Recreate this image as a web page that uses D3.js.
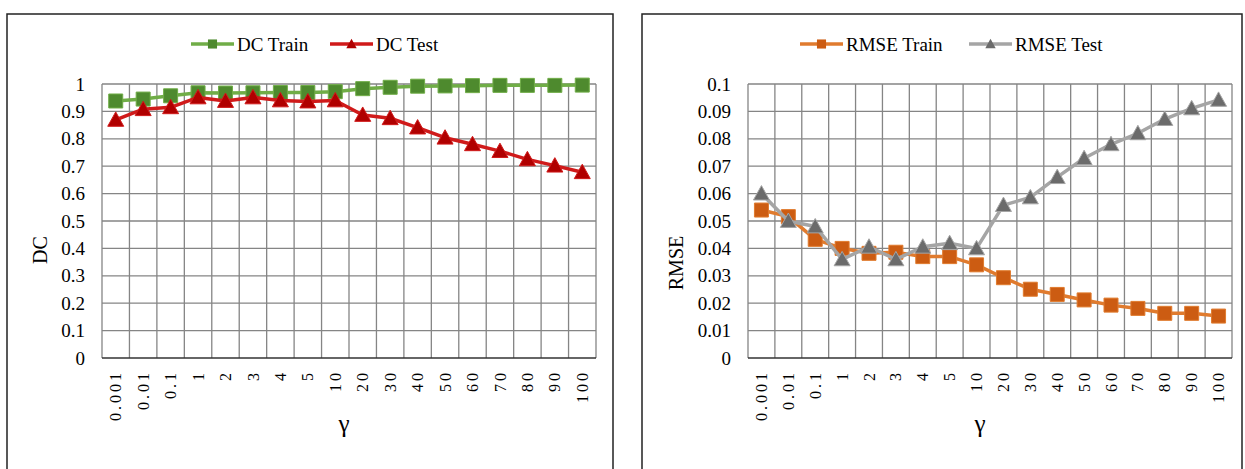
<!DOCTYPE html>
<html>
<head>
<meta charset="utf-8">
<script src="https://cdn.jsdelivr.net/npm/d3@7"></script>
<style>
    body { margin: 0; background: #fff; }
    svg text { font-family: 'Liberation Serif', 'Times New Roman', serif; fill: #000; }
    .grid line { stroke: #858585; stroke-width: 1.3; }
    .tick-label { font-size: 19px; }
    .x-label { font-size: 16px; letter-spacing: 3px; }
    .legend-text { font-size: 19px; }
</style>
</head>
<body>
<div id="chart"></div>
<script>
const gammas = ['0.001', '0.01', '0.1', '1', '2', '3', '4', '5', '10', '20', '30', '40', '50', '60', '70', '80', '90', '100']

const dcTrain = [0.938, 0.945, 0.957, 0.968, 0.967, 0.968, 0.969, 0.969, 0.972, 0.983, 0.988, 0.992, 0.993, 0.994, 0.995, 0.995, 0.995, 0.996]
const dcTest = [0.869, 0.908, 0.915, 0.951, 0.938, 0.951, 0.940, 0.936, 0.940, 0.887, 0.875, 0.841, 0.804, 0.780, 0.755, 0.725, 0.702, 0.678]

const rmseTrain = [0.054, 0.0516, 0.0433, 0.040, 0.0382, 0.0386, 0.037, 0.037, 0.034, 0.0293, 0.0251, 0.0232, 0.0212, 0.0193, 0.0181, 0.0163, 0.0163, 0.0153]
const rmseTest = [0.060, 0.050, 0.048, 0.036, 0.0406, 0.036, 0.0406, 0.0419, 0.040, 0.0558, 0.0586, 0.066, 0.0729, 0.078, 0.082, 0.0872, 0.0911, 0.0942]

const dcTicks = [0, 0.1, 0.2, 0.3, 0.4, 0.5, 0.6, 0.7, 0.8, 0.9, 1]
const rmseTicks = [0, 0.01, 0.02, 0.03, 0.04, 0.05, 0.06, 0.07, 0.08, 0.09, 0.1]

const svg = d3.select('#chart').append('svg')
    .attr('width', 1245).attr('height', 469)

drawPanel({
    box: [7, 14, 606, 470],
    plot: { left: 102, right: 596, top: 84, bottom: 358 },
    yMax: 1, yTicks: dcTicks, yFormat: d => d3.format('')(d),
    yLabel: 'DC', yLabelPos: [40, 250],
    gammaX: 344,
    series: [
        { name: 'DC Train', values: dcTrain, line: '#70ad47', marker: '#4e8a2e', shape: 'square', legendX: 191 },
        { name: 'DC Test', values: dcTest, line: '#d01a1a', marker: '#b00000', shape: 'triangle', legendX: 330 }
    ]
})

drawPanel({
    box: [642, 14, 600, 470],
    plot: { left: 748, right: 1232, top: 84, bottom: 358 },
    yMax: 0.1, yTicks: rmseTicks, yFormat: d => d3.format('')(+d.toFixed(2)),
    yLabel: 'RMSE', yLabelPos: [676, 263],
    gammaX: 980,
    series: [
        { name: 'RMSE Train', values: rmseTrain, line: '#e07b2e', marker: '#cc5c12', shape: 'square', legendX: 800 },
        { name: 'RMSE Test', values: rmseTest, line: '#a5a5a5', marker: '#6b6b6b', shape: 'triangle', legendX: 969 }
    ]
})

function drawPanel(cfg) {
    const p = cfg.plot
    const panel = svg.append('g')

    panel.append('rect')
        .attr('x', cfg.box[0]).attr('y', cfg.box[1])
        .attr('width', cfg.box[2]).attr('height', cfg.box[3])
        .attr('fill', '#fff').attr('stroke', '#222').attr('stroke-width', 1.5)

    const xScale = d3.scaleBand()
        .domain(gammas)
        .range([p.left, p.right])
    const bandW = xScale.bandwidth()

    const yScale = d3.scaleLinear()
        .domain([0, cfg.yMax])
        .range([p.bottom, p.top])

    // grid
    const grid = panel.append('g').attr('class', 'grid')
    grid.selectAll('.h').data(cfg.yTicks.slice(1))
        .join('line')
        .attr('x1', p.left).attr('x2', p.right)
        .attr('y1', d => yScale(d)).attr('y2', d => yScale(d))
    grid.selectAll('.v').data(gammas)
        .join('line')
        .attr('x1', d => xScale(d)).attr('x2', d => xScale(d))
        .attr('y1', p.top).attr('y2', p.bottom)
    grid.append('line')
        .attr('x1', p.right).attr('x2', p.right)
        .attr('y1', p.top).attr('y2', p.bottom)
    panel.append('line')
        .attr('x1', p.left).attr('x2', p.right)
        .attr('y1', p.bottom).attr('y2', p.bottom)
        .attr('stroke', '#333').attr('stroke-width', 1.6)

    // y ticks
    panel.selectAll('.y-tick').data(cfg.yTicks)
        .join('text')
        .attr('class', 'tick-label')
        .attr('x', p.left - 17)
        .attr('y', d => yScale(d))
        .attr('dy', '0.35em')
        .attr('text-anchor', 'end')
        .text(cfg.yFormat)

    // x ticks, rotated
    panel.selectAll('.x-tick').data(gammas)
        .join('text')
        .attr('class', 'x-label')
        .attr('transform', d => `translate(${xScale(d) + bandW / 2}, ${p.bottom + 12}) rotate(-90)`)
        .attr('dy', '0.35em')
        .attr('text-anchor', 'end')
        .text(d => d)

    panel.append('text')
        .attr('x', cfg.gammaX).attr('y', 432)
        .attr('text-anchor', 'middle')
        .style('font-size', '25px')
        .text('γ')

    panel.append('text')
        .attr('transform', `translate(${cfg.yLabelPos[0]}, ${cfg.yLabelPos[1]}) rotate(-90)`)
        .attr('dy', '0.35em')
        .attr('text-anchor', 'middle')
        .style('font-size', '20px')
        .text(cfg.yLabel)

    const line = d3.line()
        .x((d, i) => xScale(gammas[i]) + bandW / 2)
        .y(d => yScale(d))

    cfg.series.forEach(s => {
        panel.append('path')
            .datum(s.values)
            .attr('d', line)
            .attr('fill', 'none')
            .attr('stroke', s.line)
            .attr('stroke-width', 3.5)
            .attr('stroke-linejoin', 'round')

        panel.selectAll(null).data(s.values)
            .join('path')
            .attr('transform', (d, i) => `translate(${xScale(gammas[i]) + bandW / 2}, ${yScale(d)})`)
            .attr('d', marker(s.shape, 1))
            .attr('fill', s.marker)
            .attr('stroke', s.line)
            .attr('stroke-width', 1)

        // legend
        const lg = panel.append('g')
            .attr('transform', `translate(${s.legendX}, 44)`)
        lg.append('line')
            .attr('x1', 0).attr('x2', 43)
            .attr('stroke', s.line).attr('stroke-width', 3.5)
        lg.append('path')
            .attr('transform', 'translate(21.5, 0)')
            .attr('d', marker(s.shape, 0.65))
            .attr('fill', s.marker)
        lg.append('text')
            .attr('class', 'legend-text')
            .attr('x', 46).attr('dy', '0.35em')
            .text(s.name)
    })
}

function marker(shape, k) {
    if (shape == 'square') {
        const h = 7 * k
        return `M${-h},${-h}H${h}V${h}H${-h}Z`
    }
    const h = 8 * k
    return `M0,${-h}L${h},${h * 0.8}L${-h},${h * 0.8}Z`
}
</script>
</body>
</html>
